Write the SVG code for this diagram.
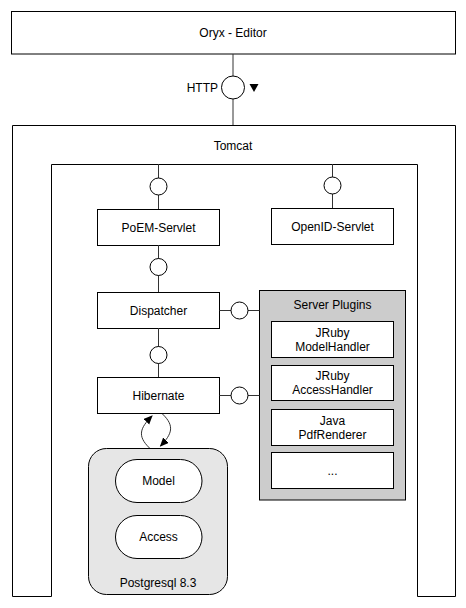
<svg xmlns="http://www.w3.org/2000/svg" width="466" height="608" viewBox="0 0 466 608">
<style>
text{font-family:"Liberation Sans",Arial,Helvetica,sans-serif;font-size:12px;fill:#000;text-anchor:middle;dominant-baseline:central}
.box{fill:#fff;stroke:#000;stroke-width:1}
.ln{fill:none;stroke:#333;stroke-width:1}
.ifc{fill:#fff;stroke:#000;stroke-width:1}
</style>
<defs>
<marker id="ah" markerWidth="10" markerHeight="10" refX="8" refY="4" orient="auto" markerUnits="userSpaceOnUse">
<path d="M0,0 L9,4 L0,8 Z" fill="#000"/>
</marker>
</defs>
<g id="oryx-editor">
<rect class="box" x="11.5" y="11.5" width="444" height="42.5"/>
<text x="233" y="33">Oryx - Editor</text>
</g>
<g id="tomcat">
<path class="box" d="M12.5,125.5 H455.5 V596.5 H417.5 V164.5 H51.5 V596.5 H12.5 Z"/>
<text x="233" y="146">Tomcat</text>
</g>
<g id="poem-servlet">
<rect class="box" x="97.5" y="209.5" width="122" height="36"/>
<text x="158.5" y="227.5">PoEM-Servlet</text>
</g>
<g id="openid-servlet">
<rect class="box" x="271.5" y="208.5" width="122" height="36"/>
<text x="332.5" y="226.5">OpenID-Servlet</text>
</g>
<g id="dispatcher">
<rect class="box" x="97.5" y="292.5" width="122" height="36"/>
<text x="158.5" y="310.5">Dispatcher</text>
</g>
<g id="hibernate">
<rect class="box" x="97.5" y="377.5" width="122" height="36"/>
<text x="158.5" y="395.5">Hibernate</text>
</g>
<g id="server-plugins">
<rect x="259.5" y="290.5" width="146" height="209.5" fill="#ccc" stroke="#000"/>
<text x="332.5" y="305">Server Plugins</text>
<rect class="box" x="271.5" y="321.5" width="122" height="36"/>
<text x="332.5" y="332.5">JRuby</text>
<text x="332.5" y="346.5">ModelHandler</text>
<rect class="box" x="271.5" y="365.5" width="122" height="35"/>
<text x="332.5" y="376">JRuby</text>
<text x="332.5" y="390">AccessHandler</text>
<rect class="box" x="271.5" y="409.5" width="122" height="36"/>
<text x="332.5" y="420.5">Java</text>
<text x="332.5" y="434.5">PdfRenderer</text>
<rect class="box" x="271.5" y="452.5" width="122" height="36"/>
<text x="332.5" y="470.5">...</text>
</g>
<g id="postgresql">
<rect x="88.5" y="448.5" width="139" height="146" rx="18" ry="18" fill="#e6e6e6" stroke="#000"/>
<rect class="box" x="115.5" y="459.5" width="86.5" height="43" rx="21.5" ry="21.5"/>
<text x="158.5" y="481">Model</text>
<rect class="box" x="115.5" y="515.5" width="86.5" height="43" rx="21.5" ry="21.5"/>
<text x="158.5" y="537">Access</text>
<text x="158" y="583">Postgresql 8.3</text>
</g>
<g id="connectors">
<line class="ln" x1="233" y1="54" x2="233" y2="76"/>
<line class="ln" x1="233" y1="99" x2="233" y2="125"/>
<circle class="ifc" cx="233" cy="87.5" r="11.5"/>
<text x="218" y="88" style="text-anchor:end">HTTP</text>
<path d="M249.5,84 L258.5,84 L254,92 Z" fill="#000"/>
<line class="ln" x1="158.5" y1="164" x2="158.5" y2="209"/>
<circle class="ifc" cx="158.5" cy="186.5" r="8.5"/>
<line class="ln" x1="332.5" y1="164" x2="332.5" y2="208"/>
<circle class="ifc" cx="332.5" cy="185.5" r="8.5"/>
<line class="ln" x1="158.5" y1="245" x2="158.5" y2="292"/>
<circle class="ifc" cx="158.5" cy="267" r="8.5"/>
<line class="ln" x1="158.5" y1="328" x2="158.5" y2="377"/>
<circle class="ifc" cx="158.5" cy="355" r="8.5"/>
<line class="ln" x1="219.5" y1="310.5" x2="259.5" y2="310.5"/>
<circle class="ifc" cx="239.5" cy="310.5" r="8.5"/>
<line class="ln" x1="219.5" y1="395.5" x2="259.5" y2="395.5"/>
<circle class="ifc" cx="239.5" cy="395.5" r="8.5"/>
<path class="ln" d="M149.5,448 C137,436 140,428 152,416" marker-end="url(#ah)"/>
<path class="ln" d="M162.5,414 C175,426 172,434 160.5,446" marker-end="url(#ah)"/>
</g>
</svg>
